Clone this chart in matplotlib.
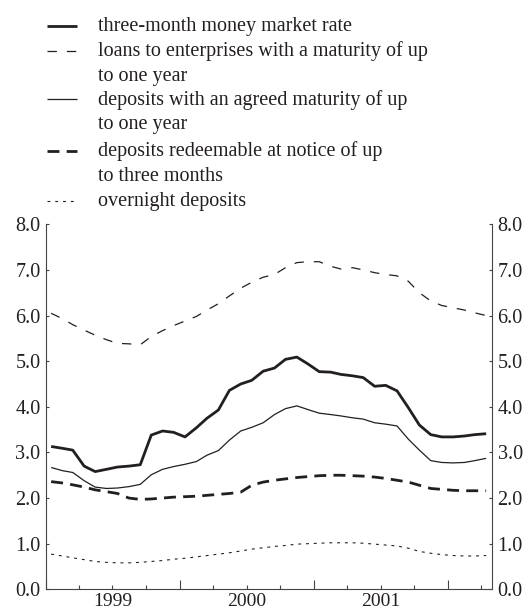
"""
Euro area retail bank interest rates vs. three-month money market rate (monthly, % p.a.).
"""
import matplotlib
matplotlib.use('Agg')
import matplotlib.pyplot as plt
import matplotlib.dates as mdates
from matplotlib.lines import Line2D
from matplotlib.ticker import FuncFormatter
import pandas as pd

plt.rcParams['font.family'] = ['Liberation Serif', 'DejaVu Serif']

INK = '#231f20'
AXC = '#444444'

# monthly observations, Jan 1999 - Apr 2002
months = pd.date_range('1999-01-01', '2002-04-01', freq='MS') + pd.Timedelta(days=14)

money_market_3m = [
    3.13, 3.09, 3.05, 2.70, 2.58, 2.63, 2.68, 2.70, 2.73, 3.38, 3.47, 3.44,
    3.34, 3.54, 3.75, 3.93, 4.36, 4.50, 4.58, 4.78, 4.85, 5.04, 5.09, 4.94,
    4.77, 4.76, 4.71, 4.68, 4.64, 4.45, 4.47, 4.35, 3.98, 3.60, 3.39, 3.34,
    3.34, 3.36, 3.39, 3.41,
]
loans_1y = [
    6.05, 5.93, 5.80, 5.68, 5.57, 5.47, 5.39, 5.38, 5.36, 5.54, 5.67, 5.78,
    5.88, 5.98, 6.12, 6.26, 6.43, 6.60, 6.73, 6.84, 6.90, 7.05, 7.16, 7.18,
    7.18, 7.08, 7.02, 7.05, 7.00, 6.94, 6.90, 6.87, 6.75, 6.50, 6.32, 6.22,
    6.17, 6.12, 6.06, 6.00,
]
deposits_agreed_1y = [
    2.67, 2.60, 2.56, 2.38, 2.24, 2.21, 2.22, 2.25, 2.30, 2.51, 2.63, 2.69,
    2.74, 2.80, 2.94, 3.04, 3.27, 3.47, 3.55, 3.65, 3.83, 3.96, 4.02, 3.94,
    3.86, 3.83, 3.80, 3.76, 3.73, 3.65, 3.62, 3.58, 3.29, 3.05, 2.82, 2.78,
    2.77, 2.78, 2.82, 2.87,
]
deposits_notice_3m = [
    2.36, 2.33, 2.29, 2.24, 2.18, 2.14, 2.10, 2.00, 1.97, 1.98, 2.00, 2.02,
    2.03, 2.04, 2.06, 2.08, 2.10, 2.13, 2.28, 2.35, 2.39, 2.42, 2.45, 2.47,
    2.49, 2.50, 2.50, 2.49, 2.48, 2.46, 2.43, 2.39, 2.35, 2.28, 2.21, 2.19,
    2.17, 2.16, 2.16, 2.16,
]
overnight = [
    0.77, 0.73, 0.69, 0.65, 0.61, 0.59, 0.58, 0.58, 0.59, 0.61, 0.63, 0.66,
    0.68, 0.71, 0.74, 0.77, 0.80, 0.84, 0.88, 0.91, 0.94, 0.96, 0.99, 1.00,
    1.01, 1.02, 1.02, 1.02, 1.01, 0.99, 0.97, 0.95, 0.90, 0.83, 0.79, 0.76,
    0.74, 0.73, 0.73, 0.74,
]

series = [
    (['three-month money market rate'], money_market_3m,
     dict(lw=2.0, ls='-')),
    (['loans to enterprises with a maturity of up', 'to one year'], loans_1y,
     dict(lw=0.9, ls=(0, (7.5, 8)))),
    (['deposits with an agreed maturity of up', 'to one year'], deposits_agreed_1y,
     dict(lw=0.9, ls='-')),
    (['deposits redeemable at notice of up', 'to three months'], deposits_notice_3m,
     dict(lw=2.0, ls=(0, (4.3, 2.6)))),
    (['overnight deposits'], overnight,
     dict(lw=0.8, ls=(0, (2.6, 4.4)))),
]

W, H = 529, 612
fig = plt.figure(figsize=(W / 100, H / 100), dpi=100)

# main plot area (pixel geometry of the reference)
x0, x1, y_top, y_bot = 46, 492, 224.3, 589.3
ax = fig.add_axes([x0 / W, 1 - y_bot / H, (x1 - x0) / W, (y_bot - y_top) / H])

for label, vals, st in series:
    ax.plot(months, vals, color=INK, solid_capstyle='butt', dash_capstyle='butt', **st)

ax.set_xlim(pd.Timestamp('1999-01-01'), pd.Timestamp('2002-05-01'))
ax.set_ylim(0, 8)
ax.set_yticks([0, 1, 2, 3, 4, 5, 6, 7, 8])
ax.yaxis.set_major_formatter(FuncFormatter(lambda v, p: f'{v:.1f}'))

ax.spines['top'].set_visible(False)
for s in ('left', 'right', 'bottom'):
    ax.spines[s].set_color(AXC)
    ax.spines[s].set_linewidth(0.8)

ax.tick_params(axis='y', which='both', direction='in', length=2.5, width=0.8,
               color=AXC, labelsize=14.5, labelcolor=INK, pad=4,
               left=True, right=True, labelleft=True, labelright=True)

ax.xaxis.set_major_locator(mdates.YearLocator())
ax.xaxis.set_minor_locator(mdates.MonthLocator(bymonth=[4, 7, 10]))
ax.xaxis.set_major_formatter(FuncFormatter(lambda v, p: ''))
ax.xaxis.set_minor_formatter(FuncFormatter(
    lambda v, p: str(mdates.num2date(v).year) if mdates.num2date(v).month == 7 else ''))
ax.tick_params(axis='x', which='major', direction='in', length=6.5, width=0.8, color=AXC)
ax.tick_params(axis='x', which='minor', direction='in', length=3.2, width=0.8, color=AXC,
               labelsize=14, labelcolor=INK, pad=2.5)

# legend drawn by hand in pixel coordinates
lg = fig.add_axes([0, 0, 1, 1], zorder=-1)
lg.set_xlim(0, W)
lg.set_ylim(H, 0)
lg.axis('off')

row_y = [25.7, 50.7, 99.3, 150.7, 200.7]
line_gap = 24.5
for (lines, vals, st), y in zip(series, row_y):
    lg.add_line(Line2D([47, 77], [y, y], color=INK, solid_capstyle='butt',
                       dash_capstyle='butt', **st))
    for k, txt in enumerate(lines):
        lg.text(98, y + 5.5 + k * line_gap, txt, fontsize=14.5, color=INK,
                va='baseline', ha='left')

fig.savefig('out.png', dpi=100, facecolor='white')
plt.close()
